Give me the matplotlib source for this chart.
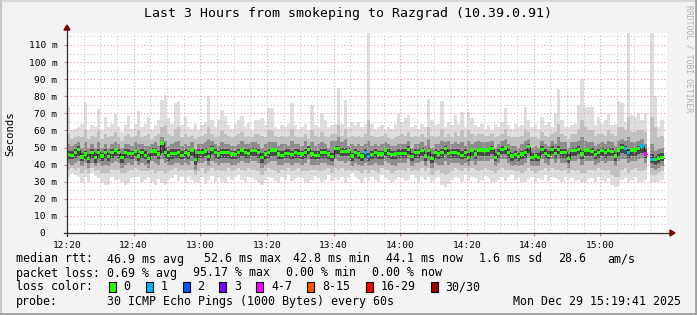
import numpy as np
import matplotlib
matplotlib.use("Agg")
import matplotlib.pyplot as plt
from matplotlib.patches import Rectangle, Polygon
from matplotlib.lines import Line2D

nan = np.nan
W, H = 697, 315

# one sample per minute, 12:20 .. 15:19 (values in ms)
med = [46.0, 45.4, 47.3, 48.8, 44.5, 46.2, 43.6, 47.3, 44.0, 47.3,
       45.0, 47.1, 44.6, 46.9, 48.5, 46.9, 44.0, 47.1, 46.6, 46.6,
       48.0, 45.0, 47.1, 45.4, 43.4, 47.9, 47.9, 46.2, 52.6, 47.3,
       45.4, 46.6, 46.6, 46.9, 45.4, 46.9, 46.2, 48.5, 42.8, 47.1,
       47.3, 47.9, 44.6, 49.2, 47.3, 46.2, 47.3, 46.9, 46.9, 46.2,
       45.8, 46.9, 48.5, 47.3, 46.6, 48.1, 48.1, 46.9, 44.0, 46.2,
       47.3, 48.5, 48.5, 46.2, 45.4, 46.6, 46.6, 46.0, 46.9, 46.6,
       46.2, 46.9, 48.9, 46.2, 45.4, 45.4, 46.9, 46.9, 46.2, 44.6,
       49.3, 49.3, 47.7, 47.7, 47.9, 45.0, 46.9, 46.2, 45.0, 46.9,
       44.6, 45.8, 47.3, 46.2, 46.2, 48.5, 46.6, 45.8, 46.2, 46.6,
       46.6, 46.6, 48.9, 44.6, 46.9, 46.9, 48.1, 45.0, 48.1, 43.4,
       47.3, 46.2, 47.3, 49.3, 46.6, 46.9, 46.9, 46.6, 45.4, 46.9,
       44.2, 48.5, 46.2, 48.5, 48.5, 48.5, 48.5, 49.3, 44.2, 46.6,
       48.9, 49.7, 47.3, 45.0, 45.8, 44.6, 46.2, 47.3, 50.5, 44.2,
       45.0, 44.2, 48.9, 46.6, 45.4, 48.9, 46.6, 48.9, 47.3, 47.3,
       43.8, 48.1, 48.1, 48.9, 46.2, 48.5, 48.5, 47.7, 45.8, 46.9,
       48.1, 46.9, 48.1, 47.7, 45.0, 48.5, 50.1, 49.3, 46.9, 48.5,
       48.5, 49.3, 50.9, 46.2, nan, 43.1, 42.9, 43.8, 44.1, nan]

hi = [73.6, 60, 61, 62, 64, 76, 60, 63, 62, 72.6,
      60, 68, 62, 64, 69.6, 62, 59, 63, 68.5, 61,
      64, 71.4, 62, 64, 68, 61, 63, 66, 78, 80.7,
      67, 64, 76, 77.5, 63, 68, 62, 61, 64, 60,
      63, 65, 80, 66, 62, 66, 72, 68.5, 63, 61,
      64, 66, 68.5, 62, 64.5, 60, 66, 66, 67, 63,
      73, 73, 62, 61, 63, 62, 64, 76, 63, 61,
      62, 64, 60, 75, 63, 62, 70, 66, 62, 63,
      64, 85, 64, 78, 62, 65, 63, 65, 62, 64,
      125, 64, 61, 62, 63, 60, 62, 61, 64, 70,
      65, 67, 69, 62, 63, 61, 64, 62, 78.5, 66,
      63, 64, 77, 62, 65, 63, 69, 64, 71, 62,
      71, 67, 63, 62, 64, 61, 63, 60, 64, 62,
      65, 72.9, 63, 61, 64, 62, 63, 73.5, 66, 62,
      64, 61, 68, 63, 65, 62, 70, 84, 66, 62,
      62, 63, 64, 75, 90, 74, 74, 74, 63, 68,
      64, 66, 70, 63, 64, 77, 76, 65, 125, 69,
      68, 70, 66, 70, nan, 125, 80, 62, 66, nan]

lo = [33.0, 34.9, 34.0, 33.0, 29.5, 33.0, 30.1, 34.9, 33.4, 32.0,
      29.5, 28.1, 28.1, 33.0, 31.0, 31.4, 30.1, 28.1, 29.1, 32.0,
      33.0, 33.0, 30.1, 31.0, 33.0, 30.1, 28.1, 31.4, 29.1, 28.1,
      31.0, 32.0, 34.0, 30.6, 32.5, 29.5, 33.0, 31.0, 30.1, 29.1,
      33.0, 28.5, 31.0, 33.5, 30.0, 32.0, 30.1, 29.5, 33.0, 31.0,
      32.5, 34.0, 31.0, 30.1, 33.0, 32.0, 31.0, 29.5, 28.3, 31.0,
      33.0, 32.0, 30.5, 29.5, 33.0, 31.0, 34.0, 30.5, 31.5, 33.0,
      32.0, 30.0, 29.0, 31.0, 33.5, 32.0, 30.0, 31.0, 34.0, 30.5,
      32.0, 31.0, 33.0, 30.0, 32.0, 35.0, 33.0, 31.5, 30.0, 32.0,
      30.5, 33.0, 31.0, 30.0, 34.0, 32.0, 31.0, 29.8, 31.0, 33.0,
      32.0, 30.5, 31.0, 34.0, 32.0, 30.0, 33.0, 31.0, 32.5, 30.0,
      31.5, 33.0, 28.0, 27.0, 28.5, 31.0, 33.0, 32.0, 30.0, 34.0,
      31.0, 33.0, 32.0, 30.0, 31.0, 33.5, 32.0, 30.0, 29.8, 31.0,
      32.5, 30.5, 33.0, 34.0, 31.0, 32.0, 30.0, 29.8, 31.5, 33.0,
      30.0, 32.0, 31.0, 34.0, 30.5, 33.0, 32.0, 31.0, 30.0, 33.0,
      31.0, 32.0, 30.5, 31.0, 29.8, 29.0, 31.5, 32.0, 30.0, 33.0,
      31.0, 30.0, 32.0, 28.0, 27.0, 27.5, 31.0, 32.0, 29.8, 31.0,
      33.0, 30.0, 29.8, 31.0, nan, 30.0, 29.8, 30.0, 31.0, nan]

p90 = [58, 55, 56, 57, 56, 60, 55, 57, 56, 60,
       55, 58, 56, 57, 59, 56, 54, 57, 58, 56,
       57, 60, 56, 57, 58, 55, 57, 58, 62, 63,
       58, 57, 61, 62, 56, 58, 56, 57, 55, 56,
       57, 58, 62, 58, 56, 57, 60, 58, 57, 56,
       57, 58, 59, 56, 57, 56, 58, 58, 57, 56,
       60, 60, 57, 56, 57, 56, 57, 61, 57, 56,
       56, 58, 55, 60, 57, 56, 59, 57, 56, 58,
       58, 63, 57, 61, 56, 57, 56, 57, 56, 58,
       66, 57, 56, 56, 57, 58, 56, 55, 56, 57,
       58, 57, 59, 56, 57, 56, 58, 56, 62, 57,
       56, 57, 61, 56, 58, 56, 59, 57, 60, 56,
       60, 58, 57, 58, 58, 57, 57, 58, 56, 57,
       58, 61, 57, 56, 56, 56, 57, 61, 59, 56,
       56, 55, 59, 57, 56, 58, 59, 64, 58, 57,
       55, 58, 58, 61, 66, 62, 60, 60, 57, 58,
       58, 57, 60, 58, 57, 62, 62, 60, 68, 59,
       59, 60, 60, 59, nan, 68, 62, 56, 57, nan]

p75 = [52, 51, 52, 53, 50, 53, 50, 52, 50, 53,
       50, 52, 50, 52, 53, 52, 50, 52, 52, 51,
       53, 52, 52, 51, 51, 52, 53, 51, 56, 54,
       51, 52, 53, 54, 51, 52, 51, 53, 49, 52,
       52, 53, 55, 54, 52, 51, 53, 52, 52, 51,
       51, 52, 54, 52, 52, 53, 53, 52, 50, 52,
       53, 53, 53, 51, 52, 52, 51, 54, 52, 52,
       51, 54, 51, 53, 51, 52, 53, 52, 50, 54,
       54, 56, 53, 55, 51, 52, 51, 52, 51, 52,
       54, 51, 52, 51, 52, 53, 52, 51, 51, 52,
       52, 52, 54, 50, 52, 52, 53, 51, 55, 50,
       52, 52, 54, 53, 54, 52, 53, 52, 53, 51,
       54, 52, 53, 54, 53, 53, 53, 54, 50, 52,
       54, 55, 52, 51, 51, 50, 52, 54, 55, 50,
       51, 50, 54, 52, 51, 54, 52, 56, 53, 53,
       50, 53, 53, 54, 56, 54, 53, 53, 51, 52,
       53, 52, 54, 53, 51, 54, 55, 54, 56, 53,
       53, 54, 55, 52, nan, 52, 48, 49, 50, nan]

p60 = [48, 48, 49, 51, 47, 48, 46, 49, 47, 49,
       47, 49, 47, 49, 50, 49, 46, 49, 49, 48,
       50, 47, 49, 48, 46, 50, 50, 48, 54, 50,
       48, 49, 49, 49, 48, 49, 48, 50, 46, 49,
       49, 50, 47, 51, 49, 48, 49, 49, 49, 48,
       48, 49, 50, 49, 49, 50, 50, 49, 47, 48,
       49, 50, 50, 48, 48, 49, 49, 48, 49, 49,
       48, 49, 51, 48, 48, 48, 49, 49, 48, 47,
       51, 51, 50, 50, 50, 47, 49, 48, 47, 49,
       47, 48, 49, 48, 48, 50, 49, 48, 48, 49,
       49, 49, 51, 47, 49, 49, 50, 47, 50, 46,
       49, 48, 49, 51, 49, 49, 49, 49, 48, 49,
       47, 50, 48, 50, 50, 50, 50, 51, 47, 49,
       51, 51, 49, 47, 48, 47, 48, 49, 52, 47,
       47, 47, 51, 49, 48, 51, 49, 51, 49, 49,
       46, 50, 50, 51, 48, 50, 50, 50, 48, 49,
       50, 49, 50, 50, 47, 50, 52, 51, 49, 50,
       50, 51, 52, 49, nan, 46, 45, 46, 47, nan]

p40 = [43, 43, 44, 45, 42, 43, 41, 44, 41, 44,
       42, 44, 42, 44, 45, 44, 41, 44, 44, 43,
       45, 42, 44, 43, 41, 45, 45, 43, 47, 44,
       42, 43, 44, 44, 43, 44, 43, 45, 40, 44,
       44, 45, 42, 46, 44, 43, 44, 44, 44, 43,
       43, 44, 45, 44, 44, 45, 45, 44, 41, 43,
       44, 45, 45, 43, 43, 44, 44, 43, 44, 44,
       43, 44, 46, 43, 43, 43, 44, 44, 43, 42,
       46, 46, 45, 45, 45, 42, 44, 43, 42, 44,
       42, 43, 44, 43, 43, 45, 44, 43, 43, 44,
       44, 44, 46, 42, 44, 44, 45, 42, 45, 41,
       44, 43, 44, 46, 44, 44, 44, 44, 43, 44,
       42, 45, 43, 45, 45, 45, 45, 46, 42, 44,
       46, 46, 44, 42, 43, 42, 43, 44, 47, 42,
       42, 42, 46, 44, 43, 46, 44, 46, 44, 44,
       41, 45, 45, 46, 43, 45, 45, 45, 43, 44,
       45, 44, 45, 45, 42, 45, 47, 46, 44, 45,
       45, 46, 47, 44, nan, 41, 40, 41, 42, nan]

p25 = [41, 40, 41, 42, 39, 41, 38, 41, 39, 41,
       39, 40, 39, 41, 42, 41, 38, 40, 41, 40,
       42, 40, 41, 40, 38, 42, 41, 40, 43, 41,
       40, 40, 41, 41, 40, 41, 40, 42, 37, 41,
       41, 42, 39, 42, 41, 40, 41, 41, 41, 40,
       40, 41, 42, 41, 41, 42, 42, 41, 38, 40,
       41, 42, 42, 40, 40, 41, 41, 40, 41, 41,
       40, 41, 43, 40, 40, 40, 41, 41, 40, 39,
       43, 42, 42, 41, 42, 39, 41, 40, 39, 41,
       39, 40, 41, 40, 40, 42, 41, 40, 39, 41,
       41, 41, 43, 39, 41, 41, 42, 39, 42, 38,
       41, 40, 40, 42, 40, 41, 41, 41, 40, 41,
       39, 42, 40, 42, 42, 42, 42, 43, 39, 41,
       43, 43, 41, 39, 40, 39, 40, 41, 44, 39,
       39, 39, 43, 41, 40, 43, 41, 43, 41, 41,
       38, 42, 42, 43, 40, 42, 42, 42, 40, 41,
       42, 41, 42, 42, 39, 42, 43, 43, 41, 42,
       42, 43, 44, 41, nan, 38, 37, 38, 39, nan]

p10 = [37, 38, 37, 38, 35, 37, 35, 38, 36, 37,
       35, 35, 35, 37, 37, 37, 35, 35, 36, 37,
       38, 37, 36, 36, 36, 37, 35, 36, 36, 35,
       36, 37, 38, 36, 37, 36, 37, 37, 34, 36,
       38, 35, 36, 38, 36, 37, 36, 36, 38, 36,
       37, 38, 37, 36, 38, 37, 37, 36, 34, 36,
       38, 37, 36, 35, 37, 36, 38, 36, 37, 38,
       36, 36, 36, 37, 37, 36, 36, 37, 38, 35,
       38, 37, 38, 36, 37, 36, 37, 36, 35, 37,
       35, 37, 36, 35, 38, 37, 37, 35, 36, 37,
       37, 36, 38, 36, 37, 36, 38, 36, 38, 34,
       36, 37, 35, 34, 35, 36, 38, 37, 36, 38,
       36, 38, 37, 36, 37, 38, 37, 36, 35, 37,
       38, 37, 37, 37, 36, 36, 35, 36, 38, 36,
       35, 36, 37, 38, 36, 38, 37, 37, 36, 37,
       35, 37, 36, 37, 35, 35, 37, 37, 36, 38,
       37, 36, 37, 34, 33, 33, 37, 38, 35, 37,
       38, 36, 36, 37, nan, 34, 34, 35, 36, nan]

# lost pings (out of 30) for samples that were not clean
loss_events = {89: 1, 90: 1, 167: 1, 168: 1, 172: 1, 173: 5, 174: 29, 175: 1}

time_labels = ["12:20", "12:40", "13:00", "13:20", "13:40", "14:00", "14:20", "14:40", "15:00"]
y_vals = [0, 10, 20, 30, 40, 50, 60, 70, 80, 90, 100, 110]
y_labels = ["0\u00a0\u00a0"] + ["%d m" % v for v in y_vals[1:]]

loss_names = ["0", "1", "2", "3", "4-7", "8-15", "16-29", "30/30"]
loss_cols = ["#26ff00", "#00b8ff", "#0059ff", "#7e00ff", "#ff00ff", "#ff5500", "#ff0000", "#a10000"]

row1 = [(16, "median rtt:"), (107, "46.9 ms avg"), (204, "52.6 ms max"), (293, "42.8 ms min"),
        (386, "44.1 ms now"), (479, "1.6 ms sd"), (558, "28.6"), (607, "am/s")]
row2 = [(16, "packet loss:"), (107, "0.69 % avg"), (193, "95.17 % max"), (286, "0.00 % min"),
        (372, "0.00 % now")]
probe_txt = "30 ICMP Echo Pings (1000 Bytes) every 60s"
stamp_txt = "Mon Dec 29 15:19:41 2025"


def fx(px):
    return px / W


def fy(py):
    return 1 - py / H


def loss_color(n):
    if n <= 3:
        return loss_cols[n]
    if n <= 7:
        return loss_cols[4]
    if n <= 15:
        return loss_cols[5]
    if n <= 29:
        return loss_cols[6]
    return loss_cols[7]


MONO = "DejaVu Sans Mono"
fig = plt.figure(figsize=(W / 100, H / 100), dpi=100, facecolor="#f3f3f3")

# plot area: x 67..667 px, y 33..233 px
ax = fig.add_axes([fx(67), fy(233), 600 / W, 200 / H])
ax.set_facecolor("white")
ax.set_xlim(0, 180)
ax.set_ylim(0, 117)

x = np.arange(len(med))
bands = [(lo, hi, "#dedede"), (p10, p90, "#c0c0c0"), (p25, p75, "#8c8c8c"), (p40, p60, "#4a4a4a")]
for b, t, c in bands:
    b = np.array(b, dtype=float)
    t = np.array(t, dtype=float)
    ax.bar(x, t - b, bottom=b, width=1, align="edge", color=c, linewidth=0, zorder=1)

med_a = np.array(med, dtype=float)
ax.step(np.append(x, len(x)), np.append(med_a, med_a[-1]), where="post",
        color="#202020", lw=0.6, zorder=4)
cols = [loss_color(loss_events.get(i, 0)) for i in range(len(med))]
ax.bar(x, 1.9, bottom=med_a - 0.95, width=1, align="edge", color=cols, linewidth=0, zorder=5)

# grid
ax.set_xticks(np.arange(0, 180, 20))
ax.set_xticklabels(time_labels)
ax.set_xticks(np.arange(0, 181, 5), minor=True)
ax.set_yticks(y_vals)
ax.set_yticklabels(y_labels)
ax.set_yticks(np.arange(0, 117, 5), minor=True)
ax.grid(which="minor", color="#c8c8c8", lw=0.8, ls=(0, (1, 2)), zorder=3)
ax.grid(which="major", color="#f0a0a0", lw=0.8, ls=(0, (1, 2)), zorder=3)
ax.set_axisbelow(False)
for s in ax.spines.values():
    s.set_visible(False)
ax.tick_params(which="major", length=2, color="#e08080", labelsize=6.8, pad=4)
ax.tick_params(which="minor", length=0)
ax.tick_params(axis="y", pad=5)
for lab in ax.get_xticklabels() + ax.get_yticklabels():
    lab.set_fontfamily(MONO)

# axes with arrows
fig.add_artist(Line2D([fx(64), fx(670)], [fy(233), fy(233)], color="#303030", lw=0.9))
fig.add_artist(Line2D([fx(67), fx(67)], [fy(236), fy(30)], color="#303030", lw=0.9))
fig.add_artist(Polygon([[fx(670), fy(230)], [fx(675), fy(233)], [fx(670), fy(236)]],
                       closed=True, color="#7f0000", transform=fig.transFigure))
fig.add_artist(Polygon([[fx(64), fy(30)], [fx(67), fy(25)], [fx(70), fy(30)]],
                       closed=True, color="#7f0000", transform=fig.transFigure))

# titles
fig.text(fx(348), fy(14), "Last 3 Hours from smokeping to Razgrad (10.39.0.91)",
         ha="center", va="center", fontsize=9.5, family=MONO)
fig.text(fx(10), fy(134), "Seconds", rotation=90, ha="center", va="center",
         fontsize=7.6, family=MONO)
fig.text(fx(689), fy(5), "RRDTOOL / TOBI OETIKER", rotation=270, ha="center", va="top",
         fontsize=5.8, family=MONO, color="#b0b0b0")

# legend
LS = 8.4
for px, s in row1:
    fig.text(fx(px), fy(259), s, ha="left", va="center", fontsize=LS, family=MONO)
for px, s in row2:
    fig.text(fx(px), fy(273), s, ha="left", va="center", fontsize=LS, family=MONO)
fig.text(fx(16), fy(287), "loss color:", ha="left", va="center", fontsize=LS, family=MONO)
box_x = [109, 146, 183, 219, 256, 307, 366, 431]
txt_x = [123, 161, 197, 234, 271, 322, 381, 445]
for bx, tx, name, c in zip(box_x, txt_x, loss_names, loss_cols):
    fig.add_artist(Rectangle((fx(bx), fy(292)), 7 / W, 10 / H, facecolor=c,
                             edgecolor="black", lw=0.8, transform=fig.transFigure))
    fig.text(fx(tx), fy(287), name, ha="left", va="center", fontsize=LS, family=MONO)
fig.text(fx(16), fy(301.5), "probe:", ha="left", va="center", fontsize=LS, family=MONO)
fig.text(fx(107), fy(301.5), probe_txt, ha="left", va="center", fontsize=LS, family=MONO)
fig.text(fx(681), fy(301.5), stamp_txt, ha="right", va="center", fontsize=LS, family=MONO)

# outer frame
fig.add_artist(Line2D([0, 1], [fy(0.5), fy(0.5)], color="#d8d8d8", lw=1.5))
fig.add_artist(Line2D([fx(0.5), fx(0.5)], [0, 1], color="#c8c8c8", lw=1.5))
fig.add_artist(Line2D([0, 1], [fy(314), fy(314)], color="#a0a0a0", lw=2))
fig.add_artist(Line2D([fx(696), fx(696)], [0, 1], color="#a0a0a0", lw=2))

fig.savefig("out.png", dpi=100, facecolor=fig.get_facecolor())
